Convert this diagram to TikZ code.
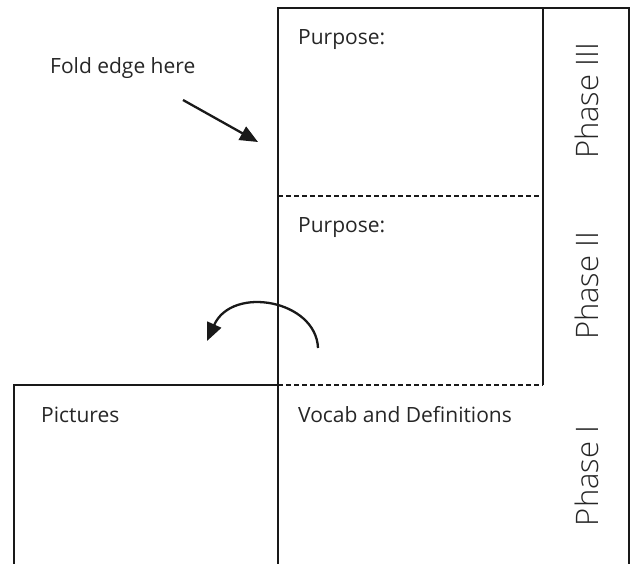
\documentclass[tikz,border=0pt]{standalone}
\usepackage{fontspec}
\setmainfont{Open Sans}
\newfontfamily\lightfont{Open Sans Light}
\usetikzlibrary{arrows.meta}
\begin{document}
\begin{tikzpicture}[x=1pt,y=-1pt,
  frame/.style={line width=2pt, black!90},
  fold/.style={line width=1.5pt, dash pattern=on 4.5pt off 3.5pt, black!90},
  label/.style={anchor=base west, inner sep=0pt, font=\fontsize{21}{24}\selectfont, text=black!85},
  phase/.style={rotate=90, anchor=base, inner sep=0pt, font=\lightfont\fontsize{31}{34}\selectfont, text=black!85},
  arr/.style={line width=2.3pt, black!90, -{Triangle[length=18pt,width=15pt]}}]
\useasboundingbox (0,0) rectangle (631,564);
% frames
\draw[frame] (278,564) -- (278,8) -- (629,8) -- (629,564);
\draw[frame] (543,8) -- (543,385);
\draw[frame] (14,564) -- (14,385) -- (278,385);
\draw[fold] (278,196) -- (543,196);
\draw[fold] (278,385) -- (543,385);
% texts
\node[label] (p3) at (298,45) {Purpose:};
\node[label] (p2) at (298,232) {Purpose:};
\node[label] (vd) at (298,422) {Vocab and Definitions};
\node[label] (pic) at (41,422) {Pictures};
\node[label] (fold) at (50,74) {Fold edge here};
\node[phase] (ph3) at (598,101) {Phase III};
\node[phase] (ph2) at (598,286) {Phase II};
\node[phase] (ph1) at (598,476) {Phase I};
% arrows
\coordinate (a1s) at (183,100);
\coordinate (a1e) at (258,142);
\draw[arr] (a1s) -- (a1e);
\coordinate (a2s) at (318,348);
\coordinate (a2e) at (207,341);
\draw[arr] (a2s) .. controls (316,300) and (232,285) .. (a2e);
\end{tikzpicture}
\end{document}
